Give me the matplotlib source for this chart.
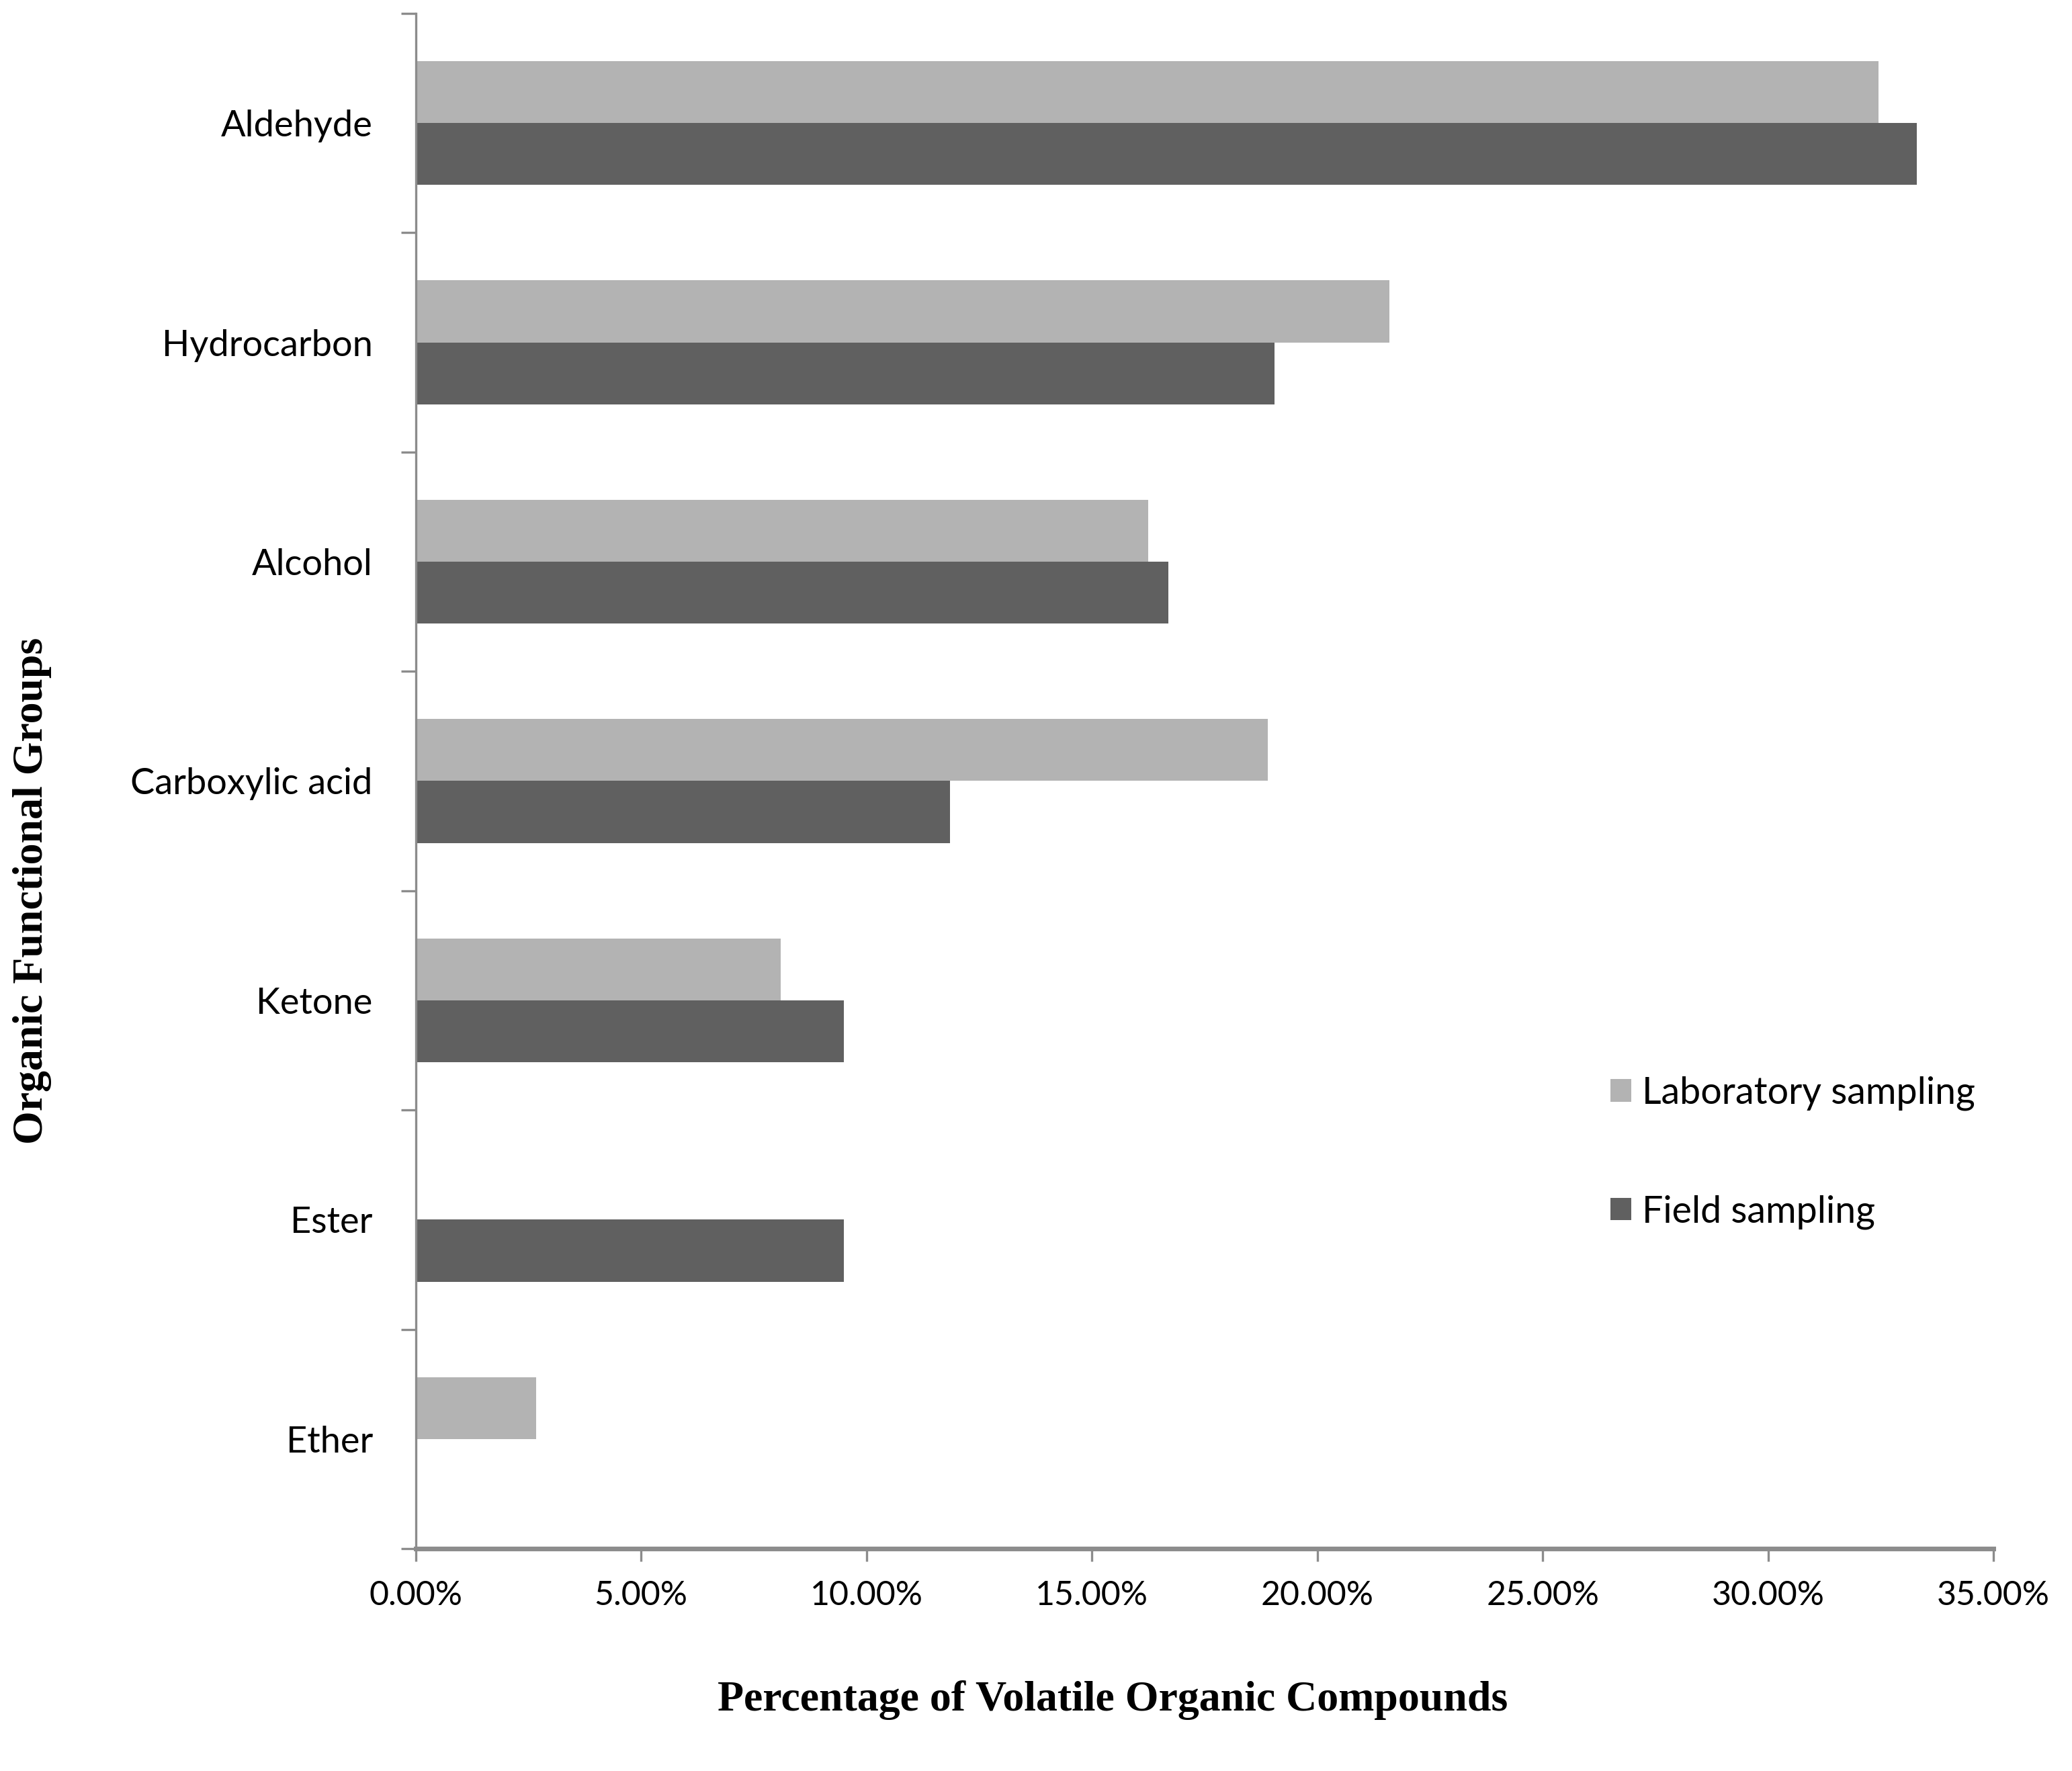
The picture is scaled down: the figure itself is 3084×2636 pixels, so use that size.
import matplotlib.pyplot as plt
from matplotlib.ticker import FuncFormatter
import numpy as np

# Data (percent).
groups = ["Aldehyde", "Hydrocarbon", "Alcohol", "Carboxylic acid", "Ketone", "Ester", "Ether"]
lab_sampling = [32.45, 21.6, 16.25, 18.9, 8.1, 0.0, 2.67]
field_sampling = [33.3, 19.05, 16.7, 11.85, 9.5, 9.5, 0.0]
x_ticks = [0, 5, 10, 15, 20, 25, 30, 35]

label_font = "Lato"
title_font = "Liberation Serif"

fig = plt.figure(figsize=(15.42, 13.18), dpi=200)
ax = fig.add_axes([0.2006, 0.1255, 0.7615, 0.867])

y = np.arange(len(groups))
bar_h = 0.283
ax.barh(y - bar_h / 2, lab_sampling, height=bar_h, color="#b3b3b3", label="Laboratory sampling")
ax.barh(y + bar_h / 2, field_sampling, height=bar_h, color="#606060", label="Field sampling")

ax.set_ylim(len(groups) - 0.5, -0.5)
ax.set_xlim(0, 35)

# Category labels, ticks at the boundaries between groups.
ax.set_yticks(y)
ax.set_yticklabels(groups, fontsize=19.5, family=label_font)
ax.set_yticks(np.arange(len(groups) + 1) - 0.5, minor=True)
ax.tick_params(axis="y", which="major", length=0, pad=23)
ax.tick_params(axis="y", which="minor", length=8, width=1.2, color="#8c8c8c")

ax.set_xticks(x_ticks)
ax.xaxis.set_major_formatter(FuncFormatter(lambda v, p: f"{v:.2f}%"))
ax.tick_params(axis="x", length=7, width=1.2, color="#8c8c8c", pad=10)
for lbl in ax.get_xticklabels():
    lbl.set_fontsize(18)
    lbl.set_family(label_font)

for side in ["top", "right"]:
    ax.spines[side].set_visible(False)
ax.spines["left"].set_color("#8c8c8c")
ax.spines["left"].set_linewidth(1.2)
ax.spines["bottom"].set_color("#8c8c8c")
ax.spines["bottom"].set_linewidth(2.5)

fig.text(0.537, 0.040, "Percentage of Volatile Organic Compounds", ha="center", va="center",
         fontsize=23, fontweight="bold", family=title_font)
fig.text(0.0155, 0.497, "Organic Functional Groups", rotation=90, va="center", ha="center",
         fontsize=23, fontweight="bold", family=title_font)

ax.legend(loc="center left", bbox_to_anchor=(0.736, 0.258), frameon=False,
          prop={"family": label_font, "size": 20}, handlelength=0.55, handleheight=0.55,
          handletextpad=0.3, labelspacing=2.25)

fig.savefig("out.png", dpi=200, facecolor="white")
